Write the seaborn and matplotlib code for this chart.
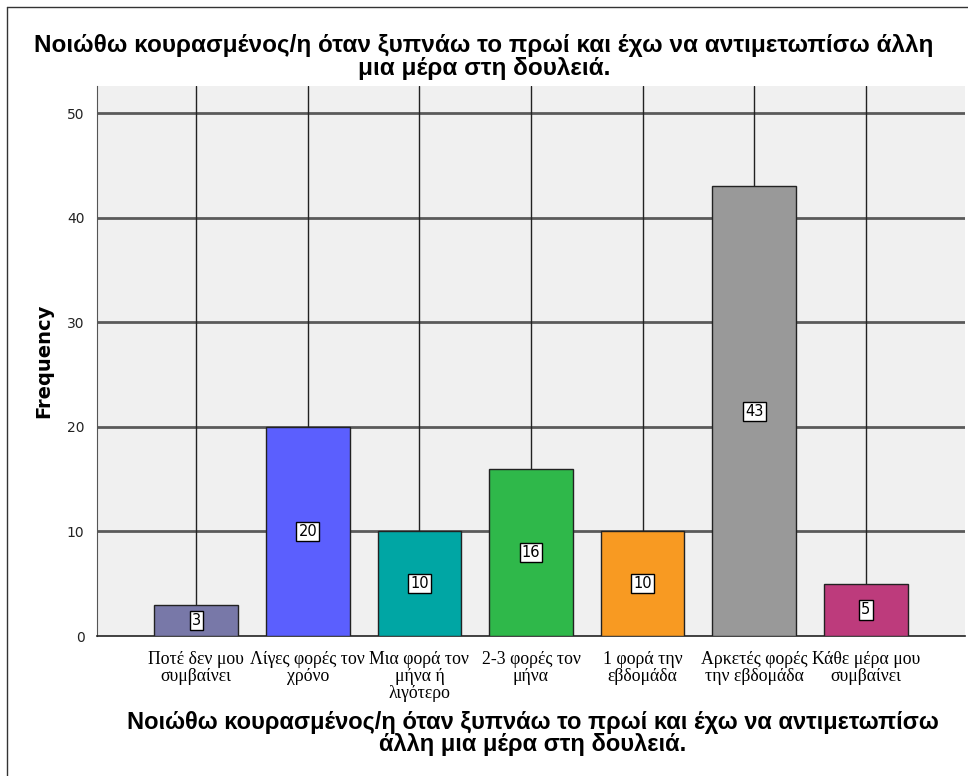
import pandas as pd
import seaborn as sns
import matplotlib.pyplot as plt
from matplotlib.lines import Line2D

# answers and counts
categories = ["Ποτέ δεν μου\nσυμβαίνει", "Λίγες φορές τον\nχρόνο", "Μια φορά τον\nμήνα ή\nλιγότερο",
              "2-3 φορές τον\nμήνα", "1 φορά την\nεβδομάδα", "Αρκετές φορές\nτην εβδομάδα",
              "Κάθε μέρα μου\nσυμβαίνει"]
counts = [3, 20, 10, 16, 10, 43, 5]
colors = ["#7878a8", "#5b5ffe", "#00a6a4", "#2fb84a", "#f89a22", "#999999", "#bd3b7c"]
y_ticks = [0, 10, 20, 30, 40, 50]

title = "Νοιώθω κουρασμένος/η όταν ξυπνάω το πρωί και έχω να αντιμετωπίσω άλλη\nμια μέρα στη δουλειά."
xlabel = "Νοιώθω κουρασμένος/η όταν ξυπνάω το πρωί και έχω να αντιμετωπίσω\nάλλη μια μέρα στη δουλειά."

df = pd.DataFrame({"answer": categories, "count": counts})

sns.set_style("white")
plt.rcParams['font.family'] = ['Liberation Sans', 'DejaVu Sans']
plt.rcParams['text.color'] = 'black'

fig = plt.figure(figsize=(9.68, 7.76), dpi=100)
ax = fig.add_axes([0.1002, 0.1804, 0.8967, 0.7088])
ax.set_facecolor("#f0f0f0")
ax.set_axisbelow(True)

sns.barplot(data=df, x="answer", y="count", hue="answer", palette=colors, legend=False,
            saturation=1, width=0.75, edgecolor="#222222", linewidth=1.0, ax=ax, zorder=3)

ax.set_xlim(-0.89, 6.89)
ax.set_ylim(0, 52.6)
ax.set_yticks(y_ticks)

# grid: thick grey horizontal, thin black vertical at categories
for t in y_ticks[1:]:
    ax.axhline(t, color="#5a5a5a", lw=2.0, zorder=1)
for i in range(len(categories)):
    ax.axvline(i, color="#222222", lw=1.0, zorder=1)

# value boxes in the middle of each bar
for i, c in enumerate(counts):
    ax.text(i, c / 2, str(c), ha="center", va="center", fontsize=10.5, color="black",
            family=["DejaVu Sans"], zorder=5,
            bbox=dict(boxstyle="square,pad=0.15", fc="white", ec="black", lw=1.0))

ax.set_xticks(range(len(categories)))
ax.set_xticklabels(categories, family=["Liberation Serif", "DejaVu Serif"], fontsize=12.8,
                   linespacing=1.0, color="black")
for lab in ax.get_yticklabels():
    lab.set_family(["DejaVu Sans"])
    lab.set_fontsize(10)
    lab.set_color("#222222")
ax.tick_params(axis="y", direction="out", length=7, width=1.2, color="#333333", pad=2)
ax.tick_params(axis="x", direction="out", length=7, width=1.2, color="#333333", pad=4)

for s in ["top", "right"]:
    ax.spines[s].set_visible(False)
ax.spines["left"].set_color("#555555")
ax.spines["bottom"].set_color("#222222")
ax.spines["bottom"].set_linewidth(1.2)

ax.set_ylabel("Frequency", fontsize=14, fontweight="bold", family=["DejaVu Sans"],
              color="black", labelpad=10)
ax.set_xlabel("")

# x axis title under the tick labels, chart title centred on the whole figure
fig.text(533 / 968, 1 - 733.5 / 776, xlabel, ha="center", va="center", fontsize=17,
         fontweight="bold", linespacing=0.98, color="black")
fig.text(0.5, 1 - 57 / 776, title, ha="center", va="center", fontsize=17.5, fontweight="bold",
         linespacing=0.98, color="black")

# outer frame
fig.add_artist(Line2D([7 / 968, 7 / 968], [0, 1 - 7 / 776], transform=fig.transFigure, color="#333333", lw=1))
fig.add_artist(Line2D([7 / 968, 1], [1 - 7 / 776, 1 - 7 / 776], transform=fig.transFigure, color="#333333", lw=1))

fig.savefig("out.png", dpi=100)
